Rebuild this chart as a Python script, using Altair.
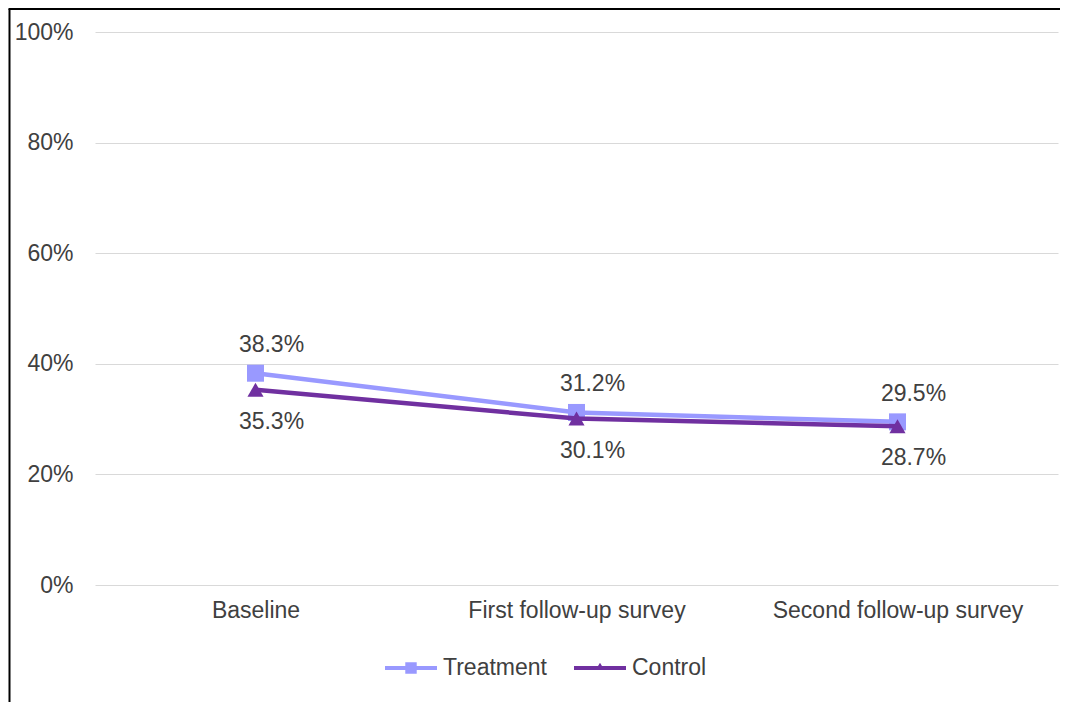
import altair as alt
import pandas as pd

categories = ["Baseline", "First follow-up survey", "Second follow-up survey"]
treatment = [0.383, 0.312, 0.295]
control = [0.353, 0.301, 0.287]
series_names = ["Treatment", "Control"]
colors = ["#9999FF", "#7030A0"]
y_ticks = [0, 0.2, 0.4, 0.6, 0.8, 1.0]

rows = []
for c, t, k in zip(categories, treatment, control):
    rows.append({"category": c, "series": "Treatment", "value": t})
    rows.append({"category": c, "series": "Control", "value": k})
df = pd.DataFrame(rows)

FONT = "Liberation Sans"
TXT = "#404040"
FS = 23

x_enc = alt.X("category:N", sort=categories,
              scale=alt.Scale(type="point", padding=0.5),
              axis=alt.Axis(title=None, domain=False, ticks=False, labelPadding=14, labelLimit=0,
                            labelFontSize=FS, labelColor=TXT, labelFont=FONT, labelAngle=0))
y_enc = alt.Y("value:Q", scale=alt.Scale(domain=[0, 1]),
              axis=alt.Axis(title=None, values=y_ticks, format=".0%", domain=False, ticks=False,
                            labelPadding=22, labelFontSize=FS, labelColor=TXT, labelFont=FONT,
                            gridColor="#d9d9d9", gridWidth=1.2))
color_scale = alt.Scale(domain=series_names, range=colors)

base = alt.Chart(df)

def series_layers(name, shape, size, dy):
    sub = base.transform_filter(alt.datum.series == name)
    line = sub.mark_line(strokeWidth=4.5).encode(
        x=x_enc, y=y_enc, color=alt.Color("series:N", scale=color_scale, legend=None))
    pts = sub.mark_point(filled=True, opacity=1, shape=shape, size=size).encode(
        x=x_enc, y=y_enc, color=alt.Color("series:N", scale=color_scale, legend=None))
    txt = sub.mark_text(dx=16, dy=dy, fontSize=FS, font=FONT, color=TXT, baseline="middle").encode(
        x=x_enc, y=y_enc, text=alt.Text("value:Q", format=".1%"))
    return [line, pts, txt]

legend_paths = [
    "M-1,-0.08H1V0.08H-1Z M-0.22,-0.22H0.22V0.22H-0.22Z",
    "M-1,-0.08H1V0.08H-1Z M-0.17,0.08L0,-0.2L0.17,0.08Z",
]
legend_layer = base.transform_filter("false").mark_point(filled=True, opacity=1).encode(
    x=x_enc, y=y_enc,
    color=alt.Color("series:N", scale=color_scale,
                    legend=alt.Legend(title=None, orient="none", direction="horizontal",
                                      legendX=290, legendY=610,
                                      symbolSize=2704, symbolStrokeWidth=0,
                                      labelFontSize=FS, labelFont=FONT, labelColor=TXT,
                                      labelOffset=6, columnPadding=27)),
    shape=alt.Shape("series:N", scale=alt.Scale(domain=series_names, range=legend_paths)),
)

blank = alt.Data(values=[{"a": 1}])
border_left = alt.Chart(blank).mark_rule(color="#000000", strokeWidth=2).encode(
    x=alt.value(-85.5), y=alt.value(-23), y2=alt.value(720))
border_top = alt.Chart(blank).mark_rule(color="#000000", strokeWidth=2).encode(
    x=alt.value(-86.5), x2=alt.value(975), y=alt.value(-23))

layers = series_layers("Treatment", "square", 289, -28) + series_layers("Control", "triangle-up", 260, 32)

chart = alt.layer(*layers, legend_layer, border_left, border_top).resolve_scale(
    color="independent", shape="independent"
).properties(
    width=963, height=553,
    autosize=alt.AutoSizeParams(type="none"),
    padding={"left": 87, "top": 24, "right": 2, "bottom": 125},
    background="white",
).configure_view(stroke=None)

chart.save("out.html", embed_options={"renderer": "svg", "actions": False})
